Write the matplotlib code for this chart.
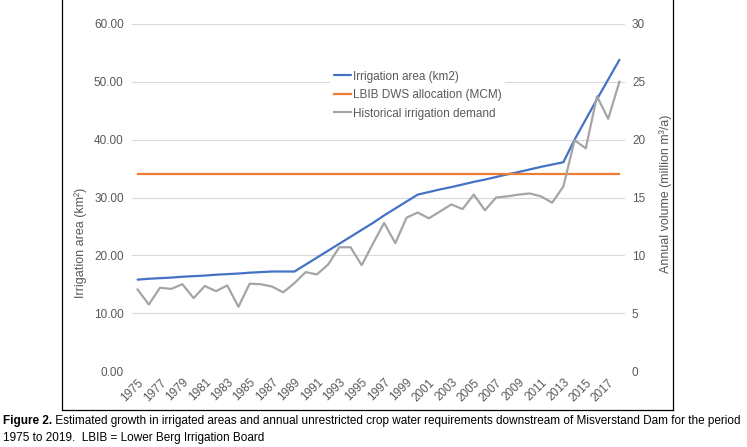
import numpy as np
import matplotlib
matplotlib.use('Agg')
import matplotlib.pyplot as plt
from matplotlib.lines import Line2D

years = list(range(1975, 2019))

# irrigation area, km2 (left axis)
area_km2 = [15.8, 15.95, 16.05, 16.15, 16.3, 16.4, 16.5, 16.65, 16.75, 16.85,
            17.0, 17.1, 17.2, 17.2, 17.2, 18.4, 19.6, 20.8, 22.0, 23.2,
            24.4, 25.6, 26.9, 28.1, 29.3, 30.5, 30.95, 31.4, 31.8, 32.25,
            32.7, 33.1, 33.55, 34.0, 34.4, 34.85, 35.3, 35.7, 36.1, 40.0,
            43.5, 47.0, 50.4, 53.8]

# LBIB DWS allocation, MCM (right axis)
allocation_mcm = [17.0] * len(years)

# historical irrigation demand, MCM (right axis)
demand_mcm = [7.05, 5.75, 7.2, 7.1, 7.5, 6.3, 7.35, 6.9, 7.4, 5.55,
              7.55, 7.5, 7.3, 6.8, 7.6, 8.55, 8.35, 9.2, 10.7, 10.7,
              9.15, 11.0, 12.8, 11.05, 13.25, 13.7, 13.2, 13.8, 14.4, 14.0,
              15.25, 13.9, 15.0, 15.1, 15.25, 15.35, 15.1, 14.55, 15.95, 19.95,
              19.25, 23.75, 21.8, 25.0]

left_ticks = [0, 10, 20, 30, 40, 50, 60]
right_ticks = [0, 5, 10, 15, 20, 25, 30]

caption_bold = 'Figure 2.'
caption_1 = (' Estimated growth in irrigated areas and annual unrestricted crop water '
             'requirements downstream of Misverstand Dam for the period')
caption_2 = '1975 to 2019.  LBIB = Lower Berg Irrigation Board'

txt = '#595959'
plt.rcParams['font.family'] = ['Liberation Sans', 'DejaVu Sans']

fig = plt.figure(figsize=(7.47, 4.47), dpi=100)
ax = fig.add_axes([132 / 747, 1 - 371 / 447, 493 / 747, 347 / 447])
ax2 = ax.twinx()

x = np.arange(len(years))
l1, = ax.plot(x, area_km2, color='#4472C4', lw=1.6, solid_capstyle='round')
l2, = ax2.plot(x, allocation_mcm, color='#ED7D31', lw=1.6)
l3, = ax2.plot(x, demand_mcm, color='#A5A5A5', lw=1.6)

ax.set_xlim(-0.5, len(years) - 0.5)
ax.set_ylim(0, 60)
ax2.set_ylim(0, 30)
ax.set_yticks(left_ticks)
ax.set_yticklabels(['%.2f' % v for v in left_ticks])
ax2.set_yticks(right_ticks)
ax2.set_yticklabels([str(v) for v in right_ticks])
ax.grid(axis='y', color='#d9d9d9', lw=0.8)
ax.set_axisbelow(True)

ax.set_xticks(x[::2])
ax.set_xticklabels([str(y) for y in years[::2]], rotation=45, ha='right',
                   rotation_mode='anchor', fontsize=8, color=txt)
for a in (ax, ax2):
    for s in a.spines.values():
        s.set_visible(False)
    a.tick_params(length=0, colors=txt, labelsize=8.5)
ax.tick_params(axis='y', pad=6)
ax.tick_params(axis='x', pad=4)
ax2.tick_params(axis='y', pad=5)

ax.set_ylabel('Irrigation area (km²)', color=txt, fontsize=9)
ax.yaxis.set_label_coords((87 - 132) / 493, 0.37)
ax2.set_ylabel('Annual volume (million m³/a)', color=txt, fontsize=9)
ax2.yaxis.set_label_coords((659 - 132) / 493, 0.51)

leg = ax2.legend([l1, l2, l3], ['Irrigation area (km2)', 'LBIB DWS allocation (MCM)',
                                'Historical irrigation demand'],
                 loc='upper left', bbox_to_anchor=(0.39, 0.893), fontsize=8.5,
                 handlelength=1.5, handletextpad=0.15, labelspacing=0.55,
                 frameon=True, facecolor='white', edgecolor='none', framealpha=1,
                 borderpad=0.3)
for t in leg.get_texts():
    t.set_color(txt)

# border box round the chart
for xs, ys in [([62, 62], [0, 410]), ([673, 673], [0, 410]), ([62, 673], [410, 410])]:
    fig.add_artist(Line2D([v / 747 for v in xs], [1 - v / 447 for v in ys],
                          color='black', lw=0.9))

# caption
cap_font = ['Liberation Sans Narrow', 'Liberation Sans', 'DejaVu Sans']
fig.canvas.draw()
r = fig.canvas.get_renderer()
tb = fig.text(3 / 747, 1 - 424 / 447, caption_bold, fontsize=8.5, fontweight='bold',
              family=cap_font, va='baseline')
t1 = fig.text(0, 1 - 424 / 447, caption_1, fontsize=8.5, family=cap_font, va='baseline')
t2 = fig.text(3 / 747, 1 - 441 / 447, caption_2, fontsize=8.5, family=cap_font, va='baseline')
# scale caption so the first line spans the same width as the original
wb = tb.get_window_extent(r).width
w1 = t1.get_window_extent(r).width
scale = 735 / (wb + w1)
for t in (tb, t1, t2):
    t.set_fontsize(8.5 * scale)
fig.canvas.draw()
wb = tb.get_window_extent(r).width
t1.set_x((3 + wb) / 747)

fig.savefig('out.png', dpi=100)
